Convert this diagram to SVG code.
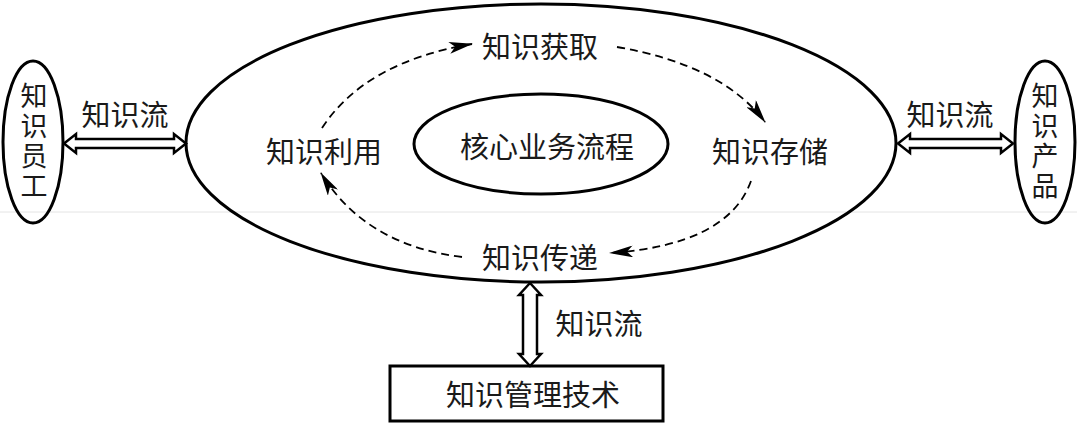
<svg xmlns="http://www.w3.org/2000/svg" width="1077" height="423" viewBox="0 0 1077 423">
<style>
.s{fill:none;stroke:#000;stroke-width:3}
.t{font-family:"Noto Sans CJK SC",sans-serif;font-size:29px;fill:#1a1a1a;text-anchor:middle;dominant-baseline:central}
.v{font-size:27px;writing-mode:vertical-rl;letter-spacing:3px}
.d{fill:none;stroke:#000;stroke-width:1.8;stroke-dasharray:8 5}
.a{fill:#fff;stroke:#000;stroke-width:2.5;stroke-linejoin:miter}
</style>
<defs>
<marker id="ah" markerWidth="24" markerHeight="12" refX="23" refY="6" orient="auto" markerUnits="userSpaceOnUse">
<path d="M0,0 L24,6 L0,12 L6,6 Z" fill="#000"/>
</marker>
</defs>
<rect width="1077" height="423" fill="#fff"/>
<line x1="0" y1="212" x2="1077" y2="212" stroke="#e4e4e4" stroke-width="1"/>
<g id="employee">
<ellipse class="s" cx="33" cy="142" rx="30" ry="81"/>
<text class="t v" x="34" y="142">知识员工</text>
</g>
<g id="product">
<ellipse class="s" cx="1045" cy="142" rx="30" ry="81"/>
<text class="t v" x="1045" y="142">知识产品</text>
</g>
<g id="process">
<ellipse class="s" cx="541" cy="143" rx="355" ry="139"/>
<text class="t" x="540" y="45">知识获取</text>
<text class="t" x="324" y="150">知识利用</text>
<text class="t" x="770" y="150">知识存储</text>
<text class="t" x="540" y="256">知识传递</text>
</g>
<g id="core">
<ellipse class="s" cx="541" cy="144" rx="127" ry="50"/>
<text class="t" x="547" y="145">核心业务流程</text>
</g>
<g id="tech">
<rect class="s" x="390" y="366" width="273" height="55"/>
<text class="t" x="533" y="393">知识管理技术</text>
</g>
<g id="connectors">
<path class="d" d="M322 128 Q365 62 472 44" marker-end="url(#ah)"/>
<path class="d" d="M617 47 Q722 65 765 122" marker-end="url(#ah)"/>
<path class="d" d="M751 181 Q728 245 610 253" marker-end="url(#ah)"/>
<path class="d" d="M462 257 Q365 245 321 173" marker-end="url(#ah)"/>
<polygon class="a" points="64,143.5 76,134 76,139 174,139 174,134 186,143.5 174,153 174,148 76,148 76,153"/>
<polygon class="a" points="898,143.5 910,134 910,139 1001,139 1001,134 1013,143.5 1001,153 1001,148 910,148 910,153"/>
<polygon class="a" points="530,283 541,295 537,295 537,354 541,354 530,366 519,354 523,354 523,295 519,295"/>
<text class="t" x="125" y="113">知识流</text>
<text class="t" x="950" y="113">知识流</text>
<text class="t" x="599" y="322">知识流</text>
</g>
</svg>
